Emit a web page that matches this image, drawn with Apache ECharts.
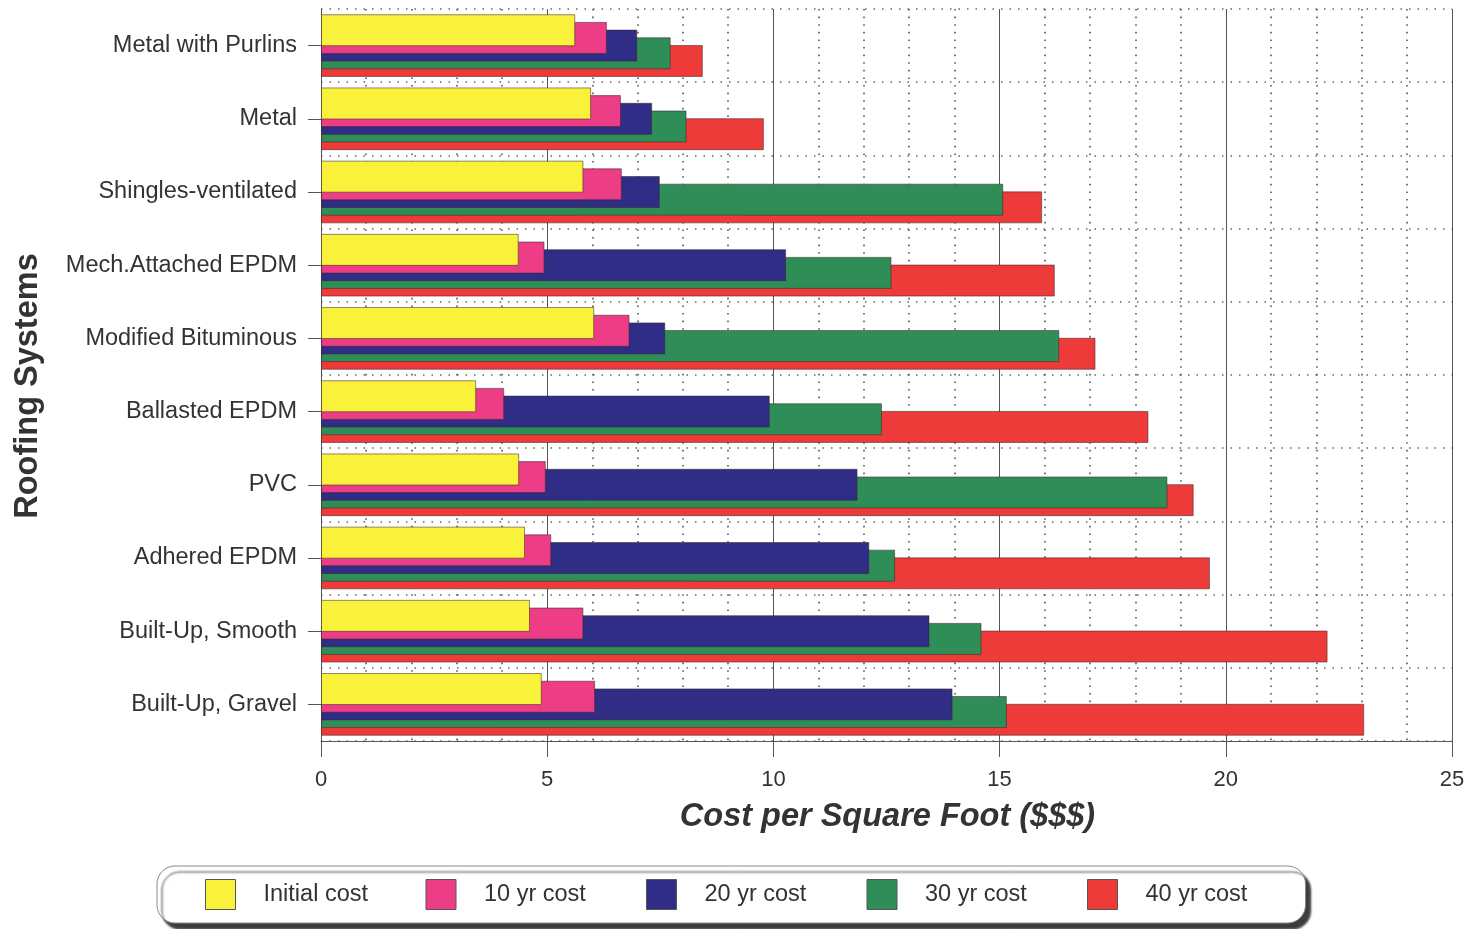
<!DOCTYPE html>
<html>
<head>
<meta charset="utf-8">
<script src="https://cdn.jsdelivr.net/npm/echarts@6/dist/echarts.min.js"></script>
<style>
html,body{margin:0;padding:0;background:#fff;}
#chart{width:1472px;height:929px;}
</style>
</head>
<body>
<div id="chart"></div>
<script>
const categories = ['Metal with Purlins','Metal','Shingles-ventilated','Mech.Attached EPDM','Modified Bituminous','Ballasted EPDM','PVC','Adhered EPDM','Built-Up, Smooth','Built-Up, Gravel'];
const seriesNames = ['Initial cost','10 yr cost','20 yr cost','30 yr cost','40 yr cost'];
const initialCost = [5.62, 5.97, 5.80, 4.37, 6.04, 3.43, 4.38, 4.51, 4.62, 4.88];
const cost10 = [6.32, 6.63, 6.65, 4.94, 6.82, 4.05, 4.97, 5.09, 5.80, 6.06];
const cost20 = [6.99, 7.32, 7.49, 10.28, 7.61, 9.92, 11.86, 12.12, 13.45, 13.96];
const cost30 = [7.73, 8.08, 15.08, 12.61, 16.32, 12.40, 18.71, 12.69, 14.60, 15.16];
const cost40 = [8.44, 9.79, 15.94, 16.22, 17.12, 18.29, 19.29, 19.65, 22.25, 23.06];
const xTicks = [0, 5, 10, 15, 20, 25];

const colors = ['#FAF23A', '#EC3D86', '#2F2D86', '#2F8E58', '#EE3A38'];
const values = [initialCost, cost10, cost20, cost30, cost40];
const FONT = '"Liberation Sans", Arial, Helvetica, sans-serif';

const chart = echarts.init(document.getElementById('chart'), null, {renderer: 'canvas'});
chart.setOption({
  backgroundColor: '#ffffff',
  animation: false,
  textStyle: {fontFamily: FONT},
  grid: {left: 321, right: 20, top: 9, bottom: 188, containLabel: false},
  legend: {
    data: seriesNames,
    left: 157, top: 866,
    orient: 'horizontal',
    icon: 'rect',
    itemWidth: 30, itemHeight: 30, itemGap: 5,
    padding: [13, 3, 13, 48],
    backgroundColor: '#ffffff',
    borderColor: '#8a8a8a', borderWidth: 1, borderRadius: 18,
    shadowColor: 'rgba(40,40,40,0.9)', shadowBlur: 2, shadowOffsetX: 5, shadowOffsetY: 6,
    itemStyle: {borderColor: '#555', borderWidth: 1},
    textStyle: {fontFamily: FONT, fontSize: 23.5, color: '#333', width: 157, padding: [0, 0, 0, 23], lineHeight: 30}
  },
  xAxis: {
    type: 'value', min: 0, max: 25, interval: 5,
    name: 'Cost per Square Foot ($$$)', nameLocation: 'middle', nameGap: 60,
    nameTextStyle: {fontFamily: FONT, fontSize: 32.5, fontWeight: 'bold', fontStyle: 'italic', color: '#333', padding: [0, 0, 0, 2]},
    axisLine: {show: true, lineStyle: {color: '#555', width: 1}},
    axisTick: {show: true, length: 16, lineStyle: {color: '#555', width: 1}},
    axisLabel: {fontFamily: FONT, fontSize: 22, color: '#333', margin: 28,
      formatter: v => xTicks.indexOf(v) >= 0 ? String(v) : ''},
    splitLine: {show: true, lineStyle: {color: '#555', width: 1}},
    minorTick: {show: false, splitNumber: 5},
    minorSplitLine: {show: true, lineStyle: {color: '#555', width: 1.6, type: [1.6, 6]}}
  },
  yAxis: {
    type: 'category', inverse: true, data: categories,
    name: 'Roofing Systems', nameLocation: 'middle', nameGap: 276,
    nameTextStyle: {fontFamily: FONT, fontSize: 32.5, fontWeight: 'bold', color: '#333', padding: [0, 22, 0, 0]},
    axisLine: {show: true, lineStyle: {color: '#555', width: 1}},
    axisTick: {show: true, alignWithLabel: true, length: 13, lineStyle: {color: '#555', width: 1}},
    axisLabel: {fontFamily: FONT, fontSize: 23.5, color: '#333', margin: 24},
    splitLine: {show: true, lineStyle: {color: '#666', width: 1.5, type: [1.5, 7]}}
  },
  series: seriesNames.map((name, i) => ({
    name: name,
    type: 'bar',
    data: values[i],
    barWidth: 32,
    barGap: '-76%',
    z: 10 - i,
    itemStyle: {color: colors[i], borderColor: 'rgba(60,40,40,0.55)', borderWidth: 1}
  }))
});
</script>
</body>
</html>
